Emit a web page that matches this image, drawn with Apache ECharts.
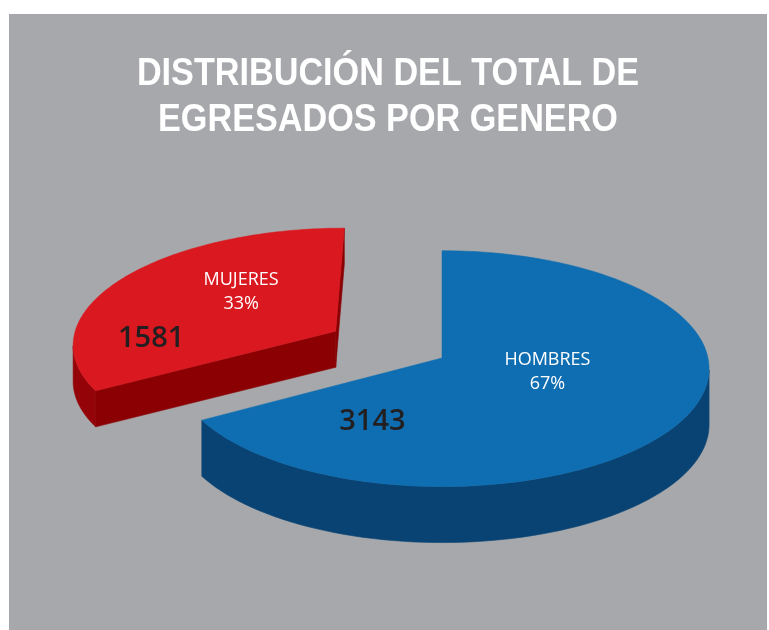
<!DOCTYPE html>
<html>
<head>
<meta charset="utf-8">
<script src="https://cdn.jsdelivr.net/npm/echarts@6/dist/echarts.min.js"></script>
<style>
  html, body { margin: 0; padding: 0; background: #fff; }
  #main { width: 769px; height: 630px; }
</style>
</head>
<body>
<div id="main"></div>
<script>
// datos (sentido horario desde las 12)
var categories = ['HOMBRES', 'MUJERES'];
var values = [3143, 1581];
var percentLabels = ['67%', '33%'];

var titleText = 'DISTRIBUCIÓN DEL TOTAL DE\nEGRESADOS POR GENERO';

// estilo de cada porción
var sliceStyle = {
    HOMBRES: { top: '#0f6eb1', side: '#094373', cut: '#094373', depth: 56, explode: 0,
               nameAt: [17, 0.41], valueAt: [115.6, 0.577] },
    MUJERES: { top: '#d9181f', side: '#930307', cut: '#8a0003', depth: 36, explode: 0.47,
               nameAt: [223, 0.53], valueAt: [174.6, 0.705] }
};

// proyeccion en perspectiva del disco
var CX = 442, CY = 358, RX = 266, RY = 117, K = 0.09;
var START = -90;

var total = 0;
var cumulative = [];
for (var i = 0; i < values.length; i++) {
    cumulative.push(total);
    total += values[i];
}

function proj(u, v, dy) {
    var w = 1 - K * v;
    return [CX + RX * u / w, CY + RY * v / w + (dy || 0)];
}

function rad(d) { return d * Math.PI / 180; }

function renderSlice(params, api) {
    var i = params.dataIndex;
    var st = sliceStyle[categories[i]];
    var t0 = START + 360 * cumulative[i] / total;
    var t1 = t0 + 360 * api.value(1) / total;
    var mid = (t0 + t1) / 2;
    var ox = st.explode * Math.cos(rad(mid));
    var oy = st.explode * Math.sin(rad(mid));

    // contorno en coordenadas del disco
    var disk = [[ox, oy]];
    var n = 120;
    for (var k = 0; k <= n; k++) {
        var t = rad(t0 + (t1 - t0) * k / n);
        disk.push([ox + Math.cos(t), oy + Math.sin(t)]);
    }
    var topPts = disk.map(function (p) { return proj(p[0], p[1]); });
    var botPts = disk.map(function (p) { return proj(p[0], p[1], st.depth); });

    var cx = 0, cy = 0;
    topPts.forEach(function (p) { cx += p[0]; cy += p[1]; });
    cx /= topPts.length; cy /= topPts.length;

    var zBase = Math.round(Math.sin(rad(mid)) * 100) + 200;
    var m = topPts.length;

    function facesDown(j) {
        var a = topPts[j], b = topPts[(j + 1) % m];
        var nx = b[1] - a[1], ny = -(b[0] - a[0]);
        var mx = (a[0] + b[0]) / 2 - cx, my = (a[1] + b[1]) / 2 - cy;
        if (nx * mx + ny * my < 0) { nx = -nx; ny = -ny; }
        return ny > 0;
    }

    var children = [];
    // caras de corte
    [0, m - 1].forEach(function (j) {
        if (!facesDown(j)) return;
        var j2 = (j + 1) % m;
        children.push({
            type: 'polygon',
            z2: zBase + 2,
            shape: { points: [topPts[j], topPts[j2], botPts[j2], botPts[j]] },
            style: { fill: st.cut, stroke: st.cut, lineWidth: 0.6 }
        });
    });
    // pared exterior, en tramos continuos
    var run = null;
    function flush() {
        if (run && run.length > 1) {
            var pts = run.map(function (q) { return topPts[q]; });
            for (var r = run.length - 1; r >= 0; r--) pts.push(botPts[run[r]]);
            children.push({
                type: 'polygon',
                z2: zBase + 1,
                shape: { points: pts },
                style: { fill: st.side, stroke: st.side, lineWidth: 0.6 }
            });
        }
        run = null;
    }
    for (var j = 1; j < m - 1; j++) {
        if (facesDown(j)) {
            if (!run) run = [j];
            run.push(j + 1);
        } else {
            flush();
        }
    }
    flush();

    children.push({
        type: 'polygon',
        z2: zBase + 5,
        shape: { points: topPts },
        style: { fill: st.top, stroke: st.top, lineWidth: 0.5 }
    });

    var na = rad(st.nameAt[0]), va = rad(st.valueAt[0]);
    var np = proj(ox + st.nameAt[1] * Math.cos(na), oy + st.nameAt[1] * Math.sin(na));
    var vp = proj(ox + st.valueAt[1] * Math.cos(va), oy + st.valueAt[1] * Math.sin(va));
    children.push({
        type: 'text',
        z2: zBase + 6,
        style: {
            text: categories[i] + '\n' + percentLabels[i],
            x: np[0], y: np[1],
            align: 'center', verticalAlign: 'middle',
            fill: '#ffffff', fontSize: 18, lineHeight: 24,
            fontFamily: '"Open Sans", "Noto Sans", sans-serif'
        }
    });
    children.push({
        type: 'text',
        z2: zBase + 6,
        style: {
            text: String(values[i]),
            x: vp[0], y: vp[1],
            align: 'center', verticalAlign: 'middle',
            fill: '#231f20', fontSize: 29, fontWeight: 600,
            fontFamily: '"Open Sans", "Noto Sans", sans-serif'
        }
    });
    return { type: 'group', children: children };
}

var myChart = echarts.init(document.getElementById('main'));
var option = {
    backgroundColor: '#ffffff',
    animation: false,
    graphic: [{
        type: 'rect',
        z: -10,
        shape: { x: 9, y: 14, width: 758, height: 616 },
        style: { fill: '#a7a8ab' }
    }, {
        type: 'group',
        x: 388, y: 52,
        scaleX: 0.9,
        children: [{
            type: 'text',
            style: {
                text: titleText,
                x: 0, y: 0,
                align: 'center', verticalAlign: 'top',
                fill: '#ffffff',
                fontSize: 38, fontWeight: 'bold', lineHeight: 46,
                fontFamily: '"Liberation Sans", Arial, sans-serif'
            }
        }]
    }],
    series: [{
        type: 'custom',
        coordinateSystem: 'none',
        renderItem: renderSlice,
        data: values.map(function (v, i) { return [i, v]; })
    }]
};
myChart.setOption(option);
</script>
</body>
</html>
